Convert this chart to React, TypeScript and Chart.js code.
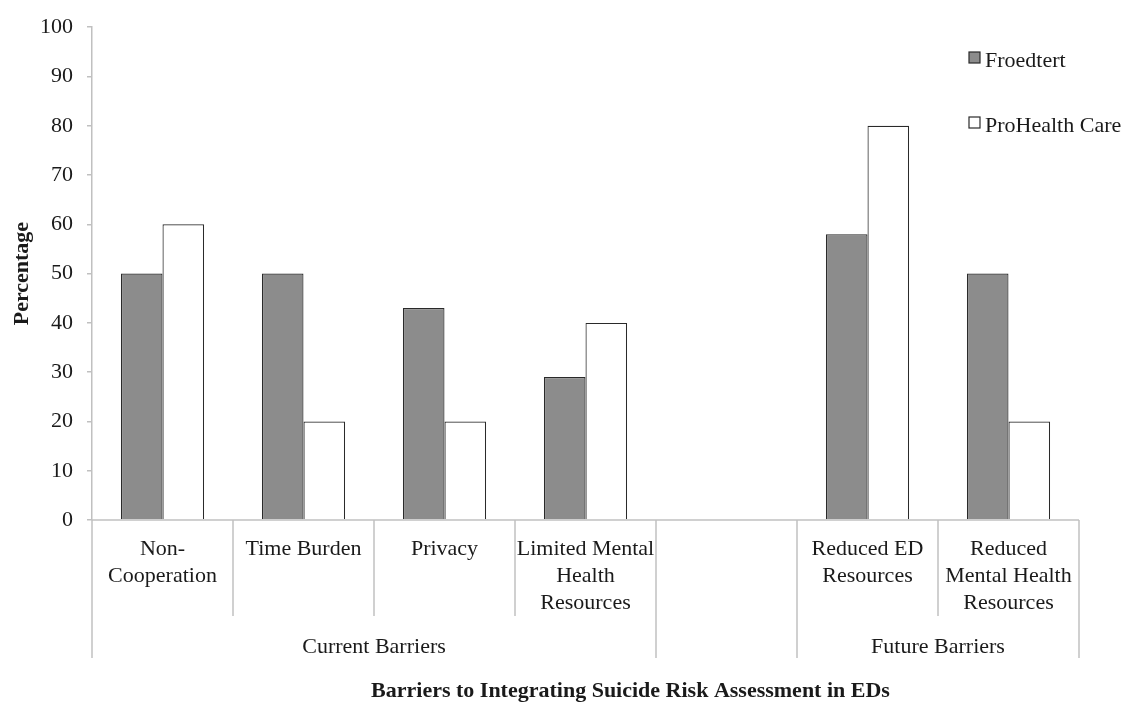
import React, { useEffect, useRef } from "react";
import { Chart, registerables } from "chart.js";

Chart.register(...registerables);

const categories: string[][] = [
  ["Non-", "Cooperation"],
  ["Time Burden"],
  ["Privacy"],
  ["Limited Mental", "Health", "Resources"],
  [""],
  ["Reduced ED", "Resources"],
  ["Reduced", "Mental Health", "Resources"],
];
const groupLabels = ["Current Barriers", "", "Future Barriers"];
const groupSizes = [4, 1, 2];
const seriesNames = ["Froedtert", "ProHealth Care"];
const froedtert: (number | null)[] = [50, 50, 43, 29, null, 58, 50];
const proHealth: (number | null)[] = [60, 20, 20, 40, null, 80, 20];
const yMin = 0;
const yMax = 100;
const yStep = 10;
const xTitle = "Barriers to Integrating Suicide Risk Assessment in EDs";
const yTitle = "Percentage";

const FONT = '"Liberation Serif", "Times New Roman", serif';
const TEXT = "#1a1a1a";
const AXIS = "#c0c0c0";
const GRAY = "#8c8c8c";
const EDGE = "#2a2a2a";

const multiAxisPlugin = {
  id: "multiAxis",
  afterDraw(chart: any) {
    const { ctx, chartArea } = chart;
    const x = chart.scales.x;
    const n = categories.length;
    const centers = categories.map((_, i) => x.getPixelForValue(i));
    const bounds: number[] = [];
    for (let i = 0; i <= n; i++) {
      if (i === 0) bounds.push(chartArea.left);
      else if (i === n) bounds.push(chartArea.right);
      else bounds.push((centers[i - 1] + centers[i]) / 2);
    }
    const groupStarts: number[] = [0];
    groupSizes.forEach((s) => groupStarts.push(groupStarts[groupStarts.length - 1] + s));
    const bottom = chartArea.bottom;

    ctx.save();
    ctx.strokeStyle = AXIS;
    ctx.lineWidth = 1.5;
    ctx.beginPath();
    ctx.moveTo(chartArea.left, bottom);
    ctx.lineTo(chartArea.right, bottom);
    ctx.stroke();

    for (let i = 0; i <= n; i++) {
      const isGroup = groupStarts.includes(i);
      ctx.beginPath();
      ctx.moveTo(bounds[i], bottom);
      ctx.lineTo(bounds[i], bottom + (isGroup ? 138 : 96));
      ctx.stroke();
    }

    ctx.fillStyle = TEXT;
    ctx.textAlign = "center";
    ctx.textBaseline = "middle";
    ctx.font = `22px ${FONT}`;
    categories.forEach((lines, i) => {
      lines.forEach((line, k) => {
        ctx.fillText(line, centers[i], bottom + 29 + k * 27);
      });
    });

    groupLabels.forEach((g, gi) => {
      const a = bounds[groupStarts[gi]];
      const b = bounds[groupStarts[gi + 1]];
      ctx.fillText(g, (a + b) / 2, bottom + 127);
    });

    ctx.font = `bold 22px ${FONT}`;
    ctx.fillText(xTitle, (chartArea.left + chartArea.right) / 2 + 45, bottom + 171);

    ctx.save();
    ctx.translate(22, (chartArea.top + chartArea.bottom) / 2);
    ctx.rotate(-Math.PI / 2);
    ctx.fillText(yTitle, 0, 0);
    ctx.restore();

    // legend
    const fills = [GRAY, "#ffffff"];
    ctx.font = `22px ${FONT}`;
    ctx.textAlign = "left";
    seriesNames.forEach((name, i) => {
      const sy = 52 + i * 65;
      ctx.fillStyle = fills[i];
      ctx.fillRect(969, sy, 11, 11);
      ctx.strokeStyle = EDGE;
      ctx.lineWidth = 1.2;
      ctx.strokeRect(969, sy, 11, 11);
      ctx.fillStyle = TEXT;
      ctx.fillText(name, 985, sy + 9);
    });
    ctx.restore();
  },
};

export default function App() {
  const ref = useRef<HTMLCanvasElement | null>(null);
  useEffect(() => {
    document.body.style.margin = "0";
    if (!ref.current) return;
    const chart = new Chart(ref.current, {
      type: "bar",
      data: {
        labels: categories.map((c) => c.join(" ")),
        datasets: [
          {
            label: seriesNames[0],
            data: froedtert,
            backgroundColor: GRAY,
            borderColor: EDGE,
            borderWidth: 1.2,
            categoryPercentage: 0.59,
            barPercentage: 1,
          },
          {
            label: seriesNames[1],
            data: proHealth,
            backgroundColor: "#ffffff",
            borderColor: EDGE,
            borderWidth: 1.2,
            categoryPercentage: 0.59,
            barPercentage: 1,
          },
        ],
      },
      options: {
        animation: false,
        responsive: true,
        maintainAspectRatio: false,
        layout: { padding: { left: 0, top: 22, right: 51, bottom: 182 } },
        plugins: { legend: { display: false }, tooltip: { enabled: false } },
        scales: {
          x: { display: false, offset: true },
          y: {
            min: yMin,
            max: yMax,
            afterFit: (s: any) => {
              s.width = 92;
            },
            ticks: {
              stepSize: yStep,
              color: TEXT,
              padding: 14,
              font: { family: FONT, size: 22 },
            },
            grid: {
              drawOnChartArea: false,
              drawTicks: true,
              tickLength: 5,
              color: AXIS,
              lineWidth: 1.5,
            },
            border: { color: AXIS, width: 1.5 },
          },
        },
      },
      plugins: [multiAxisPlugin],
    });
    return () => chart.destroy();
  }, []);
  return (
    <div style={{ width: 1130, height: 702, position: "relative" }}>
      <canvas ref={ref} />
    </div>
  );
}
